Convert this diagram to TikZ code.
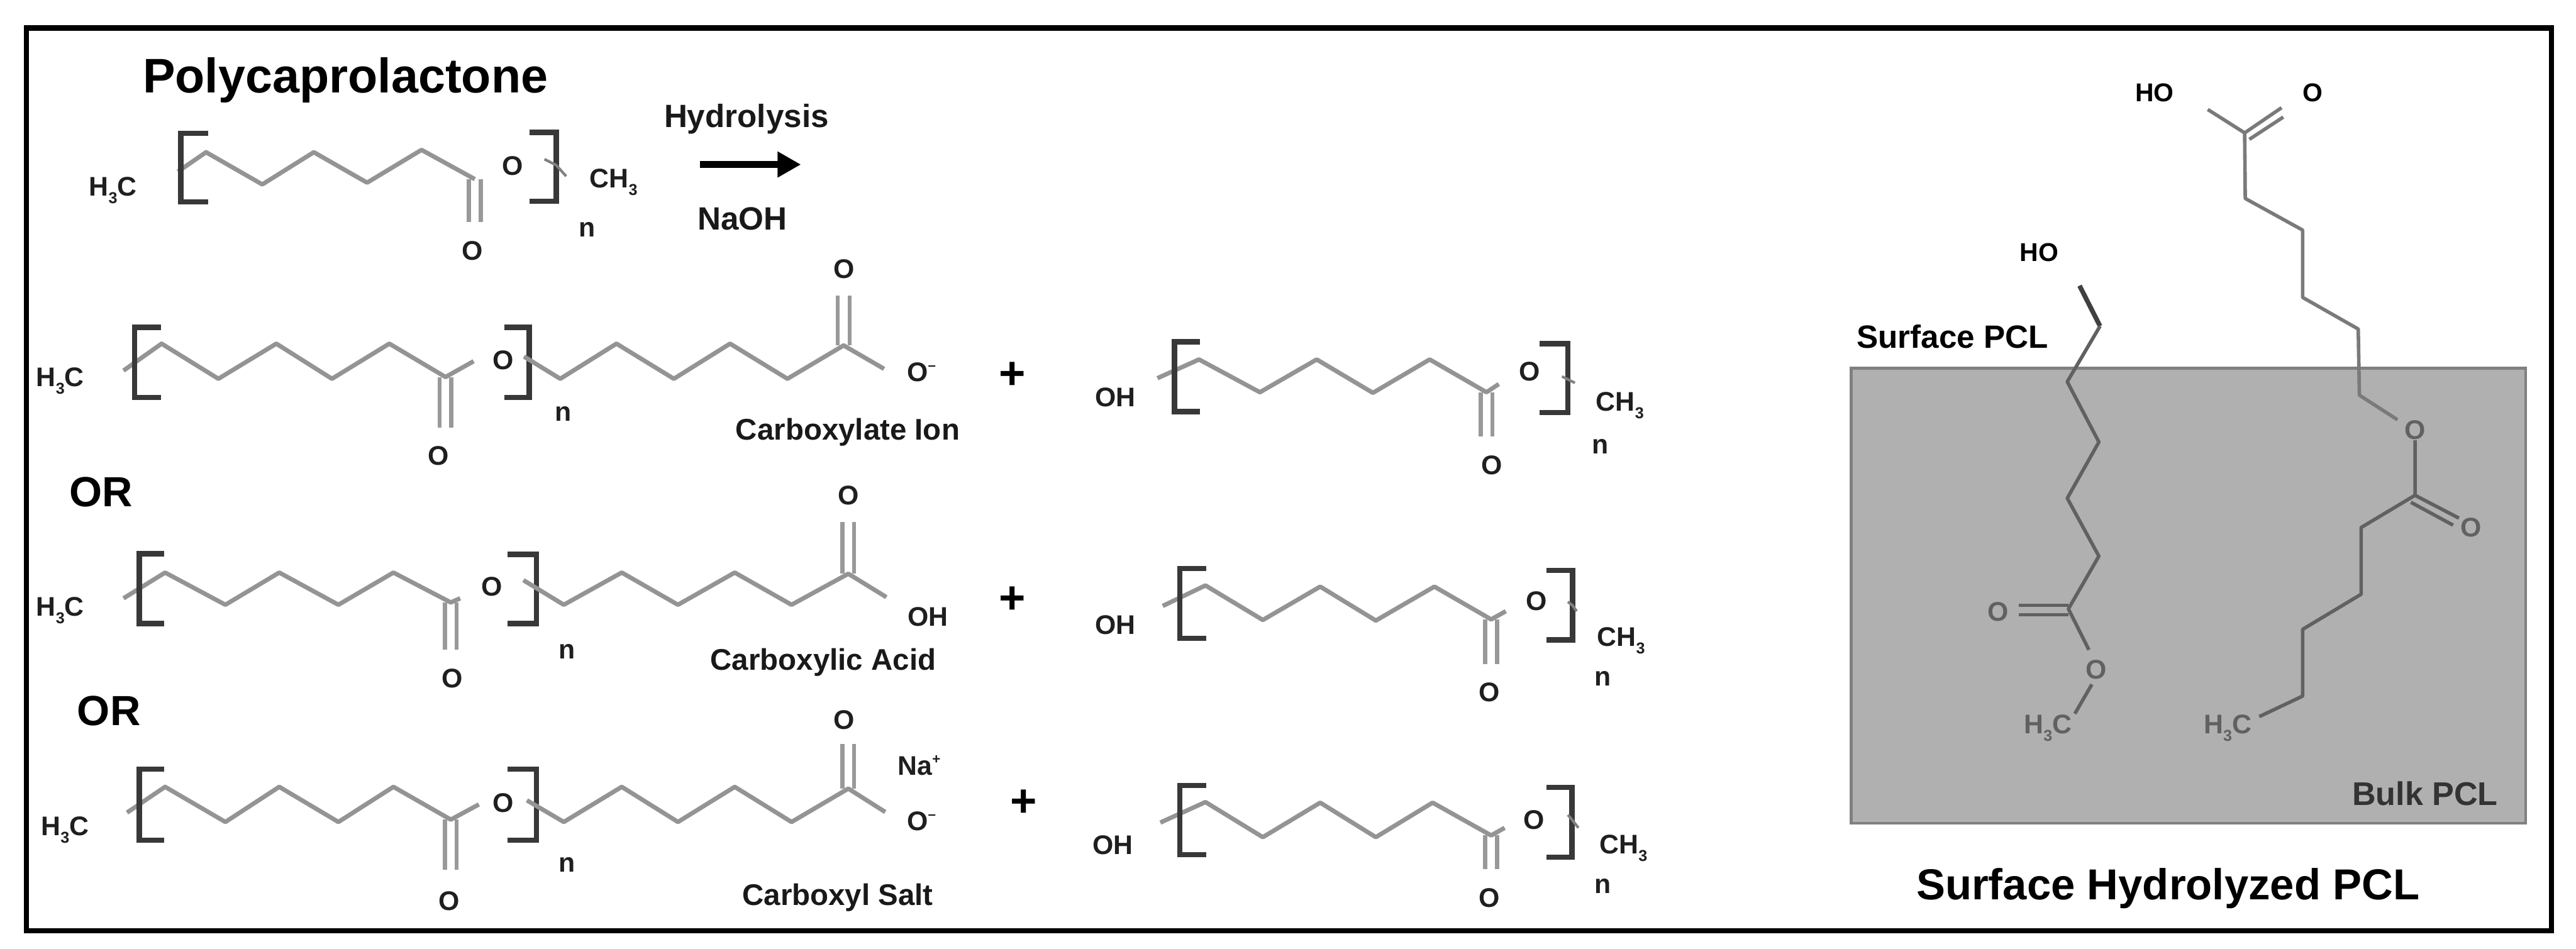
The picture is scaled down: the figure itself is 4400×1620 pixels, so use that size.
\documentclass[tikz,border=0pt]{standalone}
\usepackage{fontspec}
\setmainfont{Liberation Sans}
\usetikzlibrary{arrows.meta}
\newcommand{\lowdig}[1]{\raisebox{-.28em}{\fontsize{27}{27}\selectfont #1}}
\newcommand{\updig}[1]{\raisebox{.42em}{\fontsize{24}{24}\selectfont #1}}
\tikzset{
  x=1pt,y=-1pt,
  atom/.style={inner sep=0pt,yshift=-2pt,font=\fontsize{46}{46}\selectfont\bfseries,text=black!88},
  subbed/.style={yshift=-3pt},
  tag/.style={inner sep=0pt,yshift=-6pt,font=\fontsize{51}{51}\selectfont\bfseries,text=black!90},
  rlab/.style={inner sep=0pt,yshift=-3pt,font=\fontsize{55}{55}\selectfont\bfseries,text=black!90},
  orlab/.style={inner sep=0pt,font=\fontsize{72}{72}\selectfont\bfseries},
  plus/.style={inner sep=0pt,yshift=-5pt,font=\fontsize{78}{78}\selectfont\bfseries},
  bond/.style={draw=black!42,line width=7.5pt,line join=round},
  thinbond/.style={draw=black!50,line width=4.5pt,line join=round},
  dbl/.style={draw=black!40,line width=7pt},
  brk/.style={draw=black!78,line width=9pt,line join=miter},
  gbond/.style={draw=black!62,line width=6pt,line join=round},
  gatom/.style={inner sep=0pt,yshift=-2pt,font=\fontsize{46}{46}\selectfont\bfseries,text=black!62},
  blackatom/.style={inner sep=0pt,font=\fontsize{44}{44}\selectfont\bfseries,text=black}
}
% double bond drawn as two parallel strokes
\newcommand{\vdbl}[3]{\draw[dbl] (#1-10,#2) -- (#1-10,#3) (#1+10,#2) -- (#1+10,#3);}
\begin{document}
\begin{tikzpicture}
\useasboundingbox (0,0) rectangle (4400,1620);
\fill[white] (0,0) rectangle (4400,1620);
\draw[line width=9pt] (45,48) rectangle (4358,1590);

% ---------- top molecule
\node[font=\fontsize{83}{83}\selectfont\bfseries,inner sep=0pt] (title) at (590,137) {Polycaprolactone};
\node[atom,subbed] (a1) at (193,320) {H\lowdig{3}C};
\draw[bond] (304,293) -- (352,260) -- (448,315) -- (536,260) -- (627,312) -- (720,256) -- (811,306);
\vdbl{811}{306}{379}
\draw[brk] (356,228) -- (309,228) -- (309,345) -- (356,345);
\draw[brk] (904,226) -- (950,226) -- (950,344) -- (904,344);
\draw[thinbond] (930,272) -- (950,282) -- (967,301);
\node[atom] (a2) at (807,426) {O};
\node[atom] (a3) at (876,281) {O};
\node[atom,subbed] (a4) at (1048,306) {CH\lowdig{3}};
\node[atom] (a5) at (1003,390) {n};
\node[rlab] (hyd) at (1275,200) {Hydrolysis};
\node[rlab] (naoh) at (1268,371) {NaOH};
\coordinate (ar1) at (1196,281);
\coordinate (ar2) at (1368,281);
\draw[line width=12pt,-{Triangle[length=40pt,width=42pt]}] (ar1) -- (ar2);

% ---------- row 1 left
\node[atom,subbed] (b1) at (103,646) {H\lowdig{3}C};
\draw[bond] (211,633) -- (276,587) -- (373,647) -- (472,587) -- (567,647) -- (665,587) -- (761,644) -- (809,617);
\vdbl{761}{644}{730}
\draw[brk] (275,559) -- (230,559) -- (230,679) -- (275,679);
\draw[brk] (861,559) -- (904,559) -- (904,679) -- (861,679);
\draw[bond] (895,609) -- (957,647) -- (1053,587) -- (1151,647) -- (1247,587) -- (1345,647) -- (1441,590) -- (1510,630);
\vdbl{1441}{590}{505}
\node[atom] (b2) at (749,777) {O};
\node[atom] (b3) at (859,613) {O};
\node[atom] (b4) at (962,705) {n};
\node[atom] (b5) at (1442,458) {O};
\node[atom] (b6) at (1574,634) {O\updig{–}};
\node[tag] (b7) at (1448,732) {Carboxylate Ion};
\node[plus] (b8) at (1729,637) {+};

% ---------- row 1 right
\node[atom] (c1) at (1905,677) {OH};
\draw[bond] (1977,646) -- (2048,614) -- (2152,670) -- (2249,614) -- (2345,671) -- (2442,614) -- (2539,670) -- (2560,656);
\vdbl{2539}{670}{746}
\draw[brk] (2050,584) -- (2006,584) -- (2006,703) -- (2050,703);
\draw[brk] (2630,587) -- (2678,587) -- (2678,705) -- (2630,705);
\draw[thinbond] (2668,643) -- (2678,648) -- (2690,654);
\node[atom] (c2) at (2548,793) {O};
\node[atom] (c3) at (2613,633) {O};
\node[atom,subbed] (c4) at (2767,687) {CH\lowdig{3}};
\node[atom] (c5) at (2733,761) {n};

% ---------- OR
\node[orlab] (or1) at (173,841) {OR};

% ---------- row 2 left
\node[atom,subbed] (d1) at (103,1038) {H\lowdig{3}C};
\draw[bond] (211,1022) -- (282,978) -- (385,1033) -- (477,978) -- (578,1033) -- (672,978) -- (770,1029) -- (786,1022);
\vdbl{770}{1029}{1110}
\draw[brk] (280,946) -- (238,946) -- (238,1065) -- (280,1065);
\draw[brk] (867,947) -- (916,947) -- (916,1065) -- (867,1065);
\draw[bond] (894,991) -- (963,1033) -- (1062,978) -- (1158,1033) -- (1255,978) -- (1352,1033) -- (1449,980) -- (1514,1020);
\vdbl{1449}{980}{892}
\node[atom] (d2) at (773,1157) {O};
\node[atom] (d3) at (840,1000) {O};
\node[atom] (d4) at (968,1111) {n};
\node[atom] (d5) at (1449,844) {O};
\node[atom] (d6) at (1585,1052) {OH};
\node[tag] (d7) at (1406,1125) {Carboxylic Acid};
\node[plus] (d8) at (1729,1020) {+};

% ---------- row 2 right
\node[atom] (e1) at (1905,1065) {OH};
\draw[bond] (1986,1035) -- (2059,1000) -- (2157,1059) -- (2255,1002) -- (2350,1060) -- (2450,1002) -- (2547,1058) -- (2572,1044);
\vdbl{2547}{1058}{1134}
\draw[brk] (2060,971) -- (2015,971) -- (2015,1090) -- (2060,1090);
\draw[brk] (2641,974) -- (2686,974) -- (2686,1093) -- (2641,1093);
\draw[thinbond] (2678,1028) -- (2686,1034) -- (2693,1044);
\node[atom] (e2) at (2544,1180) {O};
\node[atom] (e3) at (2624,1025) {O};
\node[atom,subbed] (e4) at (2769,1089) {CH\lowdig{3}};
\node[atom] (e5) at (2738,1157) {n};

% ---------- OR
\node[orlab] (or2) at (186,1214) {OR};

% ---------- row 3 left
\node[atom,subbed] (f1) at (111,1413) {H\lowdig{3}C};
\draw[bond] (217,1388) -- (282,1344) -- (385,1404) -- (477,1344) -- (578,1404) -- (672,1344) -- (770,1400) -- (818,1374);
\vdbl{770}{1400}{1486}
\draw[brk] (280,1314) -- (238,1314) -- (238,1435) -- (280,1435);
\draw[brk] (867,1314) -- (916,1314) -- (916,1435) -- (867,1435);
\draw[bond] (900,1367) -- (963,1404) -- (1062,1344) -- (1158,1404) -- (1255,1344) -- (1352,1404) -- (1449,1347) -- (1512,1387);
\vdbl{1449}{1347}{1271}
\node[atom] (f2) at (767,1537) {O};
\node[atom] (f3) at (859,1370) {O};
\node[atom] (f4) at (968,1475) {n};
\node[atom] (f5) at (1442,1228) {O};
\node[atom] (f6) at (1574,1401) {O\updig{–}};
\node[atom] (f7) at (1570,1305) {Na\updig{+}};
\node[tag] (f8) at (1431,1527) {Carboxyl Salt};
\node[plus] (f9) at (1749,1367) {+};

% ---------- row 3 right
\node[atom] (g1) at (1901,1442) {OH};
\draw[bond] (1982,1405) -- (2059,1370) -- (2157,1430) -- (2255,1371) -- (2350,1430) -- (2447,1371) -- (2547,1427) -- (2570,1414);
\vdbl{2547}{1427}{1485}
\draw[brk] (2060,1342) -- (2015,1342) -- (2015,1460) -- (2060,1460);
\draw[brk] (2641,1345) -- (2685,1345) -- (2685,1464) -- (2641,1464);
\draw[thinbond] (2678,1392) -- (2685,1400) -- (2696,1414);
\node[atom] (g2) at (2544,1532) {O};
\node[atom] (g3) at (2620,1398) {O};
\node[atom,subbed] (g4) at (2773,1444) {CH\lowdig{3}};
\node[atom] (g5) at (2738,1512) {n};

% ---------- right panel
\draw[draw=black!50,fill=black!31,line width=5pt] (3162,629) rectangle (4314,1406);
\node[blackatom] (h1) at (3680,158) {HO};
\node[blackatom] (h2) at (3950,158) {O};
\draw[gbond,draw=black!52] (3771,187) -- (3834,227) -- (3835,339) -- (3933,393) -- (3933,508) -- (4028,562) -- (4030,675) -- (4095,717);
\draw[gbond,draw=black!52] (3834,227) -- (3897,184) (3842,238) -- (3900,200);
\node[gatom] (h3) at (4125,732) {O};
\draw[gbond] (4125,752) -- (4125,846) -- (4033,901) -- (4033,1015) -- (3933,1075) -- (3933,1189) -- (3859,1224);
\draw[gbond] (4125,846) -- (4200,885) (4118,858) -- (4190,897);
\node[gatom] (h4) at (4221,899) {O};
\node[gatom,subbed] (h5) at (3805,1239) {H\lowdig{3}C};

\node[blackatom] (i1) at (3483,431) {HO};
\draw[gbond,line width=8pt,draw=black!75] (3552,488) -- (3587,557);
\draw[gbond] (3587,557) -- (3531,652) -- (3585,755) -- (3531,851) -- (3585,950) -- (3533,1040) -- (3568,1110);
\draw[gbond] (3533,1034) -- (3448,1034) (3533,1050) -- (3448,1050);
\node[gatom] (i2) at (3413,1043) {O};
\node[gatom] (i3) at (3581,1142) {O};
\draw[gbond] (3573,1169) -- (3544,1219);
\node[gatom,subbed] (i4) at (3498,1239) {H\lowdig{3}C};

\node[rlab,yshift=3pt,text=black] (s1) at (3335,575) {Surface PCL};
\node[rlab,yshift=3pt,text=black!80,font=\fontsize{56}{56}\selectfont\bfseries] (s2) at (4142,1355) {Bulk PCL};
\node[inner sep=0pt,yshift=-5pt,font=\fontsize{74}{74}\selectfont\bfseries] (s3) at (3703,1513) {Surface Hydrolyzed PCL};
\end{tikzpicture}
\end{document}
